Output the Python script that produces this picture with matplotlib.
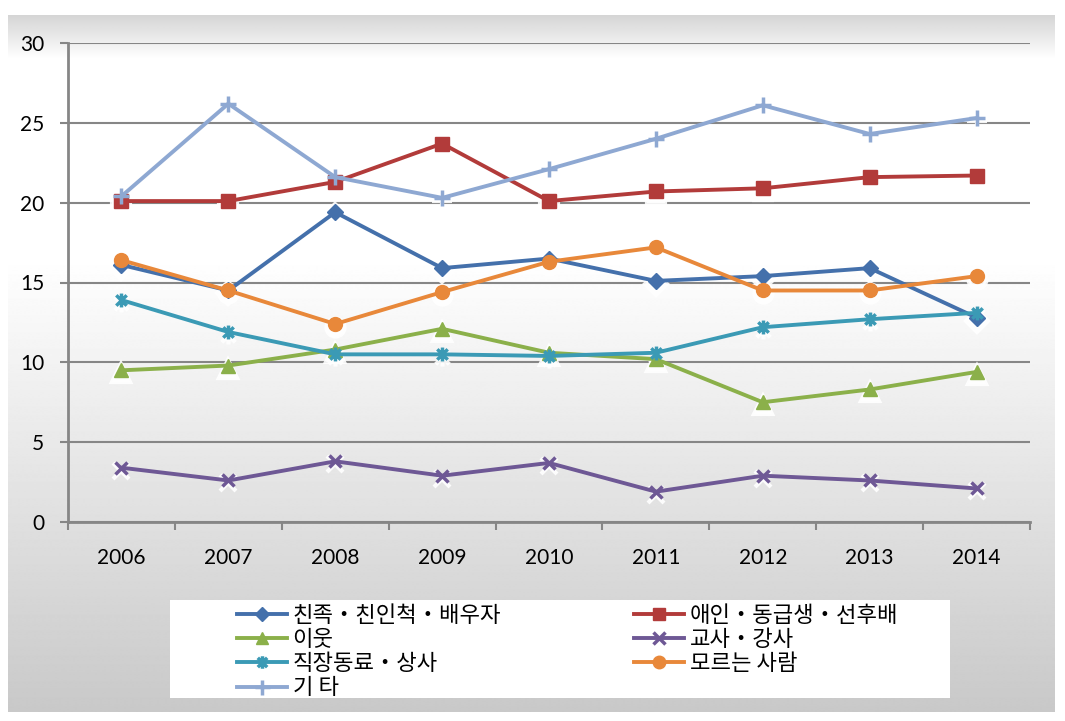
import numpy as np
import matplotlib
matplotlib.use("Agg")
import matplotlib.pyplot as plt
from matplotlib.path import Path
from matplotlib.patches import Rectangle
from matplotlib.transforms import ScaledTranslation

years = ["2006", "2007", "2008", "2009", "2010", "2011", "2012", "2013", "2014"]
names = ["친족・친인척・배우자", "애인・동급생・선후배", "이웃", "교사・강사",
         "직장동료・상사", "모르는 사람", "기 타"]
relatives = [16.1, 14.5, 19.4, 15.9, 16.5, 15.1, 15.4, 15.9, 12.8]
lovers = [20.1, 20.1, 21.3, 23.7, 20.1, 20.7, 20.9, 21.6, 21.7]
neighbors = [9.5, 9.8, 10.8, 12.1, 10.6, 10.2, 7.5, 8.3, 9.4]
teachers = [3.4, 2.6, 3.8, 2.9, 3.7, 1.9, 2.9, 2.6, 2.1]
coworkers = [13.9, 11.9, 10.5, 10.5, 10.4, 10.6, 12.2, 12.7, 13.1]
strangers = [16.4, 14.5, 12.4, 14.4, 16.3, 17.2, 14.5, 14.5, 15.4]
others = [20.4, 26.2, 21.6, 20.3, 22.1, 24.0, 26.1, 24.3, 25.3]

series = [relatives, lovers, neighbors, teachers, coworkers, strangers, others]
colors = ["#4470AB", "#B23B3A", "#8BB04A", "#6E5895", "#3B9AB5", "#E8883A", "#8EA8D2"]

star = Path([(0, -1), (0, 1), (-0.75, -0.75), (0.75, 0.75), (-0.75, 0.75), (0.75, -0.75)],
            [Path.MOVETO, Path.LINETO, Path.MOVETO, Path.LINETO, Path.MOVETO, Path.LINETO])
markers = ["D", "s", "^", "x", star, "o", "+"]
msizes = [8, 10, 10, 9, 10, 10, 12]

W, H = 1065, 721
fig = plt.figure(figsize=(W / 100, H / 100), dpi=100)

# background gradient
bg = fig.add_axes([0, 0, 1, 1], zorder=-10)
bg.set_xlim(0, W)
bg.set_ylim(H, 0)
bg.axis("off")
vals = np.ones(H)
for y in range(H):
    if y < 45:
        v = 0.89 + 0.11 * (y - 15) / 30
    elif y < 250:
        v = 1.0
    else:
        v = 1.0 - 0.21 * (y - 250) / (712 - 250)
    vals[y] = v
img = np.repeat(vals[:, None], 2, axis=1)
bg.imshow(img, cmap="gray", vmin=0, vmax=1, extent=(8, 1055, 712, 15), aspect="auto",
          interpolation="bilinear")

ax = fig.add_axes([68 / W, 1 - 522 / H, (1030 - 68) / W, (522 - 43) / H])
ax.patch.set_alpha(0)
x = np.arange(len(years))
gray = "#868686"
for s, c, m, ms in zip(series, colors, markers, msizes):
    off = ScaledTranslation(0, -3 / 100, fig.dpi_scale_trans)
    ax.plot(x, s, linestyle="none", marker=m, markersize=ms + 3, color="white",
            markeredgecolor="white", mew=3, alpha=0.9, transform=ax.transData + off, zorder=2)
lines = []
for s, c, m, ms, n in zip(series, colors, markers, msizes, names):
    mew = 2.5 if m in ("x", "+") or m is star else 1
    ln, = ax.plot(x, s, color=c, lw=2.8, marker=m, markersize=ms, markeredgewidth=mew,
                  markeredgecolor=c, markerfacecolor=c, label=n, zorder=3)
    lines.append(ln)

ax.set_xlim(-0.5, len(years) - 0.5)
ax.set_ylim(0, 30)
ax.set_yticks([0, 5, 10, 15, 20, 25, 30])
ax.set_xticks(x)
ax.set_xticklabels(years)
ax.set_xticks(np.arange(-0.5, len(years), 1), minor=True)
ax.tick_params(axis="x", which="major", length=0, pad=19)
ax.tick_params(axis="x", which="minor", length=6, width=1.5, color=gray, direction="out")
ax.tick_params(axis="y", length=6, width=1.5, color=gray, direction="out", pad=11)
for lab in ax.get_xticklabels() + ax.get_yticklabels():
    lab.set_fontfamily(["Lato", "DejaVu Sans"])
    lab.set_fontsize(15)
ax.grid(axis="y", color=gray, lw=1.5)
ax.set_axisbelow(True)
for sp in ["top", "right"]:
    ax.spines[sp].set_visible(False)
for sp in ["left", "bottom"]:
    ax.spines[sp].set_color(gray)
    ax.spines[sp].set_linewidth(2)

# legend box
fig.patches.append(Rectangle((170 / W, 1 - 698 / H), 780 / W, 98 / H, transform=fig.transFigure,
                             facecolor="white", edgecolor="none", zorder=1))
order = [0, 2, 4, 6, 1, 3, 5]
leg = fig.legend([lines[i] for i in order], [names[i] for i in order], ncol=2,
                 loc="upper left", bbox_to_anchor=(237 / W, 1 - 604 / H), frameon=False,
                 prop={"family": ["Noto Sans CJK KR", "DejaVu Sans"], "size": 16},
                 handlelength=2.25, handletextpad=0.25, labelspacing=0.05, columnspacing=6.0,
                 borderpad=0, borderaxespad=0, markerscale=0.9)
leg.set_zorder(5)

fig.savefig("out.png", dpi=100)
